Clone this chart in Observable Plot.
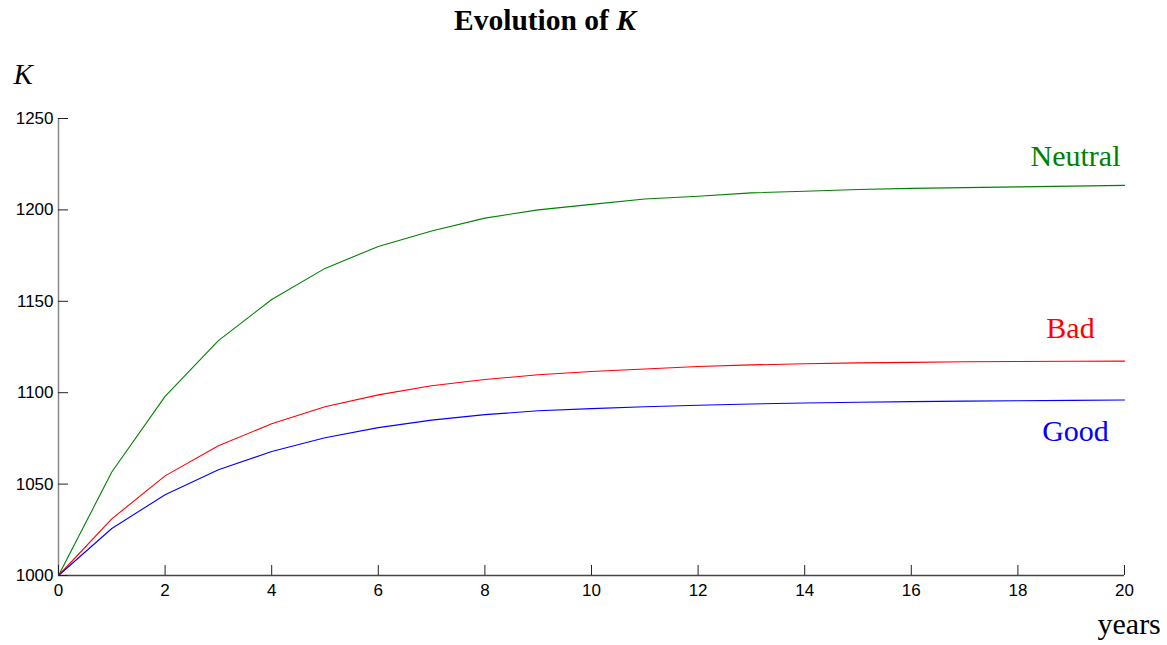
<!DOCTYPE html>
<html>
<head>
<meta charset="utf-8">
<script src="https://cdn.jsdelivr.net/npm/d3@7"></script>
<script src="https://cdn.jsdelivr.net/npm/@observablehq/plot@0.6"></script>
<style>
  html, body { margin: 0; padding: 0; background: #fff; }
  #title {
    width: 1090px; height: 40px; line-height: 40px; text-align: center;
    font-family: "Liberation Serif", "Times New Roman", serif;
    font-weight: bold; font-size: 29.5px; color: #000;
  }
</style>
</head>
<body>
<div id="title">Evolution of <i>K</i></div>
<div id="chart"></div>
<script>
// Capital stock K over 20 years under three scenarios
const years = [0, 1, 2, 3, 4, 5, 6, 7, 8, 9, 10, 11, 12, 13, 14, 15, 16, 17, 18, 19, 20];
const neutral = [1000, 1056.6, 1098, 1128.5, 1151, 1168, 1180, 1188.5, 1195.5, 1200, 1203, 1206, 1207.5, 1209.3, 1210.2, 1211.2, 1211.8, 1212.2, 1212.6, 1213, 1213.4];
const bad = [1000, 1031, 1054.5, 1071, 1083, 1092.3, 1098.8, 1103.8, 1107.2, 1109.8, 1111.6, 1113, 1114.3, 1115.2, 1115.8, 1116.3, 1116.6, 1116.9, 1117.1, 1117.2, 1117.3];
const good = [1000, 1025.7, 1044.2, 1057.9, 1067.8, 1075.4, 1080.9, 1085, 1088, 1090.1, 1091.3, 1092.3, 1093.1, 1093.8, 1094.4, 1094.8, 1095.1, 1095.4, 1095.6, 1095.8, 1096];
const scenarios = ["Neutral", "Bad", "Good"];
const xTicks = [0, 2, 4, 6, 8, 10, 12, 14, 16, 18, 20];
const yTicks = [1000, 1050, 1100, 1150, 1200, 1250];

const seriesValues = {Neutral: neutral, Bad: bad, Good: good};
const colors = {Neutral: "#008000", Bad: "#ff0000", Good: "#0000ff"};
// offsets of each scenario name from the end of its curve
const labelOffset = {Neutral: {dx: -49, dy: -19}, Bad: {dx: -54, dy: -23}, Good: {dx: -49, dy: 41}};

const rows = scenarios.flatMap(s => years.map((t, i) => ({scenario: s, year: t, K: seriesValues[s][i]})));
const serif = "'Liberation Serif', 'Times New Roman', serif";
const plain = d => String(d);

const chart = Plot.plot({
  width: 1167,
  height: 605,
  marginTop: 78,
  marginBottom: 70,
  marginLeft: 58,
  marginRight: 43,
  style: {fontFamily: "'Liberation Sans', Arial, sans-serif", fontSize: "17px", color: "#000", background: "#fff"},
  x: {domain: [0, 20]},
  y: {domain: [1000, 1250]},
  marks: [
    Plot.ruleX([0], {stroke: "#888", strokeWidth: 1.5}),
    Plot.ruleY([1000], {stroke: "#444", strokeWidth: 1.5}),
    Plot.axisX({ticks: xTicks, tickFormat: plain, tickSize: -10, tickPadding: 18, stroke: "#222", label: null, fontSize: 17}),
    Plot.axisY({ticks: yTicks, tickFormat: plain, tickSize: -10, tickPadding: 15, stroke: "#222", label: null, fontSize: 17}),
    Plot.line(rows, {x: "year", y: "K", z: "scenario", stroke: d => colors[d.scenario], strokeWidth: 1.1}),
    ...scenarios.map(s => Plot.text(rows.filter(d => d.scenario === s), Plot.selectLast({
      x: "year", y: "K", text: "scenario", fill: colors[s],
      textAnchor: "middle", lineAnchor: "bottom",
      dx: labelOffset[s].dx, dy: labelOffset[s].dy,
      fontFamily: serif, fontSize: 30
    }))),
    Plot.text(["K"], {frameAnchor: "top-left", textAnchor: "start", lineAnchor: "bottom",
      dx: -45, dy: -35, fontFamily: serif, fontStyle: "italic", fontSize: 29}),
    Plot.text(["years"], {frameAnchor: "bottom-right", textAnchor: "start", lineAnchor: "bottom",
      dx: -27, dy: 58, fontFamily: serif, fontSize: 30})
  ]
});
document.getElementById("chart").appendChild(chart);
</script>
</body>
</html>
